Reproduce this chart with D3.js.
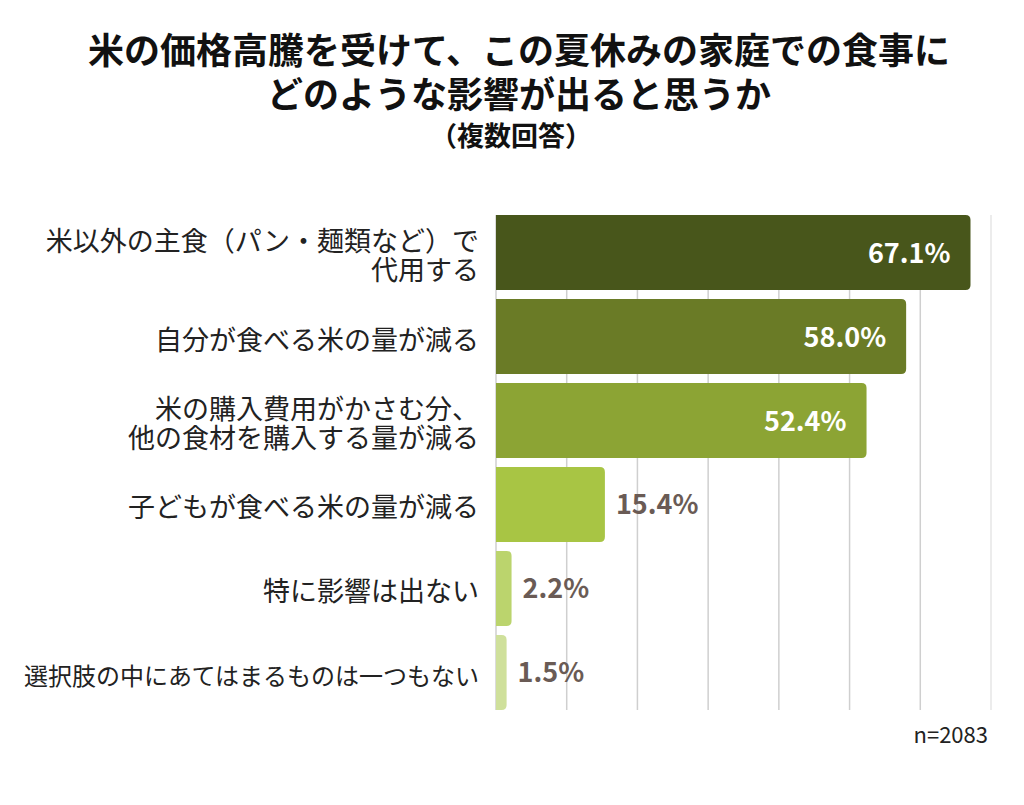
<!DOCTYPE html>
<html>
<head>
<meta charset="utf-8">
<script src="https://cdn.jsdelivr.net/npm/d3@7"></script>
<style>
  body { margin: 0; background: #fff; }
  text { font-family: "Noto Sans CJK JP", "Noto Sans", sans-serif; }
</style>
</head>
<body>
<div id="main"></div>
<script>
// **** data ****
var categories = [
  ["米以外の主食（パン・麺類など）で", "代用する"],
  ["自分が食べる米の量が減る"],
  ["米の購入費用がかさむ分、", "他の食材を購入する量が減る"],
  ["子どもが食べる米の量が減る"],
  ["特に影響は出ない"],
  ["選択肢の中にあてはまるものは一つもない"]
];
var values = [67.1, 58.0, 52.4, 15.4, 2.2, 1.5];
var barColors = ["#48561b", "#6a7b26", "#8ca434", "#a8c544", "#bbd46d", "#cfe09b"];
var gridTicks = [0, 10, 20, 30, 40, 50, 60, 70];
var titleLines = ["米の価格高騰を受けて、この夏休みの家庭での食事に", "どのような影響が出ると思うか"];
var subTitle = "（複数回答）";
var note = "n=2083";

var width = 1024, height = 805;

var svg = d3.select("#main")
  .append("svg")
    .attr("width", width)
    .attr("height", height);

// **** scales ****
var x = d3.scaleLinear().domain([0, 70]).range([496, 991]);
var y = d3.scaleBand()
  .domain(d3.range(categories.length))
  .range([215, 710])
  .paddingInner(0.107)
  .paddingOuter(0);

// **** title ****
svg.selectAll(".title")
  .data(titleLines)
  .enter()
  .append("text")
    .attr("class", "title")
    .attr("x", 519)
    .attr("y", function(d, i) { return 64 + i * 44; })
    .attr("text-anchor", "middle")
    .style("font-size", "36px")
    .style("font-weight", "bold")
    .style("fill", "#111")
    .text(function(d) { return d; });

svg.append("text")
  .attr("x", 511)
  .attr("y", 146)
  .attr("text-anchor", "middle")
  .style("font-size", "27px")
  .style("font-weight", "bold")
  .style("fill", "#111")
  .text(subTitle);

// **** gridlines ****
svg.append("g")
  .selectAll("line")
  .data(gridTicks)
  .enter()
  .append("line")
    .attr("x1", function(d) { return x(d); })
    .attr("x2", function(d) { return x(d); })
    .attr("y1", 215)
    .attr("y2", 710)
    .style("stroke", function(d) { return d == 70 ? "#e6e6e6" : "#cfcfcf"; })
    .style("stroke-width", 1.5);

// **** bars (rounded right end) ****
function barPath(d, i) {
  var x0 = x(0), x1 = x(d), y0 = y(i), h = y.bandwidth();
  var r = Math.min(5, (x1 - x0) / 2);
  return "M" + x0 + "," + y0 +
    "H" + (x1 - r) +
    "Q" + x1 + "," + y0 + " " + x1 + "," + (y0 + r) +
    "V" + (y0 + h - r) +
    "Q" + x1 + "," + (y0 + h) + " " + (x1 - r) + "," + (y0 + h) +
    "H" + x0 + "Z";
}

svg.append("g")
  .selectAll("path")
  .data(values)
  .enter()
  .append("path")
    .attr("d", barPath)
    .style("fill", function(d, i) { return barColors[i]; });

// **** value labels ****
svg.append("g")
  .selectAll("text")
  .data(values)
  .enter()
  .append("text")
    .attr("x", function(d) { return d > 30 ? x(d) - 20 : x(d) + 11; })
    .attr("y", function(d, i) { return y(i) + y.bandwidth() / 2 + 10; })
    .attr("text-anchor", function(d) { return d > 30 ? "end" : "start"; })
    .style("font-size", "27px")
    .style("font-weight", "bold")
    .style("fill", function(d) { return d > 30 ? "#fff" : "#6a5b55"; })
    .text(function(d) { return d.toFixed(1) + "%"; });

// **** category labels (longest one shrunk to fit) ****
var labels = svg.append("g")
  .selectAll("text")
  .data(categories)
  .enter()
  .append("text")
    .attr("text-anchor", "end")
    .style("font-size", function(d) { return d[0].length > 16 ? "24px" : "27px"; })
    .style("fill", "#222");

labels.selectAll("tspan")
  .data(function(d, i) {
    return d.map(function(s, j) { return {s: s, j: j, n: d.length, i: i}; });
  })
  .enter()
  .append("tspan")
    .attr("x", 479)
    .attr("y", function(d) {
      return y(d.i) + y.bandwidth() / 2 + 13 + (d.j - (d.n - 1) / 2) * 29;
    })
    .text(function(d) { return d.s; });

// **** sample size ****
svg.append("text")
  .attr("x", 988)
  .attr("y", 743)
  .attr("text-anchor", "end")
  .style("font-size", "22px")
  .style("fill", "#222")
  .text(note);
</script>
</body>
</html>
